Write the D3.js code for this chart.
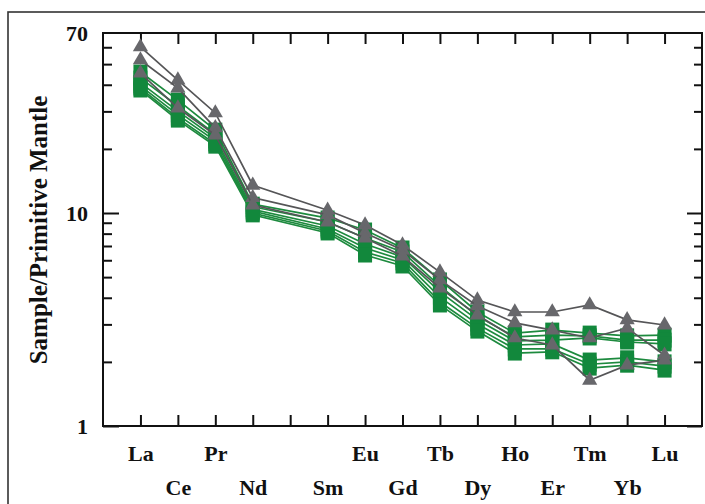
<!DOCTYPE html>
<html>
<head>
<meta charset="utf-8">
<script src="https://cdn.jsdelivr.net/npm/d3@7"></script>
<style>
  html, body { margin: 0; padding: 0; background: #fff; }
  svg { display: block; }
  text { font-family: "Liberation Serif", "Times New Roman", serif; font-weight: bold; fill: #111; }
</style>
</head>
<body>
<svg id="chart" width="705" height="504"></svg>
<script>
// REE order along the x axis (Pm has no analysis, tick only)
const elements = ["La","Ce","Pr","Nd","Pm","Sm","Eu","Gd","Tb","Dy","Ho","Er","Tm","Yb","Lu"];
const elementLabels = ["La","Ce","Pr","Nd","","Sm","Eu","Gd","Tb","Dy","Ho","Er","Tm","Yb","Lu"];

// Primitive-mantle normalised REE, triangle samples
const triSample1 = [60.2, 42.1, 29.5, 13.5, null, 10.3, 8.78, 7.07, 5.28, 3.90, 3.43, 3.43, 3.70, 3.15, 2.98];
const triSample2 = [52.3, 38.6, 25.1, 11.8, null, 9.80, 8.06, 6.70, 4.85, 3.66, 3.05, 2.82, 2.59, 2.88, 2.15];
const triSample3 = [45.4, 31.1, 23.2, 10.9, null, 9.07, 7.63, 6.28, 4.44, 3.32, 2.59, 2.40, 1.64, 1.93, 2.04];

// Primitive-mantle normalised REE, square samples
const sqSample1 = [45.9, 33.9, 24.5, 11.0, null, 9.47, 8.32, 6.85, 4.85, 3.43, 2.73, 2.82, 2.73, 2.65, 2.67];
const sqSample2 = [43.0, 31.8, 23.5, 10.7, null, 9.07, 7.63, 6.56, 4.54, 3.28, 2.62, 2.67, 2.65, 2.53, 2.53];
const sqSample3 = [40.8, 30.1, 22.5, 10.4, null, 8.69, 7.15, 6.22, 4.26, 3.15, 2.51, 2.53, 2.59, 2.48, 2.43];
const sqSample4 = [39.5, 28.9, 21.8, 10.2, null, 8.41, 6.85, 6.02, 4.03, 3.01, 2.40, 2.43, 2.04, 2.09, 2.00];
const sqSample5 = [38.6, 27.9, 21.1, 10.0, null, 8.23, 6.56, 5.83, 3.82, 2.88, 2.30, 2.30, 1.95, 2.00, 1.91];
const sqSample6 = [37.8, 27.3, 20.6, 9.80, null, 8.06, 6.35, 5.64, 3.70, 2.79, 2.20, 2.23, 1.87, 1.93, 1.83];

const triSeries = [triSample1, triSample2, triSample3];
const sqSeries = [sqSample1, sqSample2, sqSample3, sqSample4, sqSample5, sqSample6];

// y-axis ticks
const yMajorTicks = [1, 10];
const yMinorTicks = [2, 3, 4, 5, 6, 7, 8, 9, 20, 30, 40, 50, 60];
const yTickLabels = [1, 10, 70];

const svg = d3.select("#chart");

const plot = { left: 103, right: 702, top: 33, bottom: 426 };

const x = d3.scaleLinear().domain([-1, elements.length]).range([plot.left, plot.right]);
const y = d3.scaleLog().domain([1, 70]).range([plot.bottom, plot.top]);

// outer figure frame
svg.append("rect")
  .attr("x", 8).attr("y", 12).attr("width", 720).attr("height", 520)
  .attr("fill", "none").attr("stroke", "#333").attr("stroke-width", 1.6);

const axisStyle = g => {
  g.select(".domain").remove();
  g.selectAll(".tick line").attr("stroke", "#111").attr("stroke-width", 2);
};

const idx = d3.range(elements.length);

// bottom axis with staggered element labels
const xBottom = svg.append("g")
  .attr("transform", `translate(0,${plot.bottom})`)
  .call(d3.axisBottom(x).tickValues(idx).tickSize(-11).tickFormat(i => elementLabels[i]))
  .call(axisStyle);
xBottom.selectAll(".tick text")
  .attr("dy", null)
  .attr("y", i => (i % 2 === 0 ? 35 : 69))
  .attr("font-size", 22)
  .attr("font-family", "Liberation Serif, serif")
  .attr("font-weight", "bold")
  .attr("fill", "#111");

// top axis, ticks only
svg.append("g")
  .attr("transform", `translate(0,${plot.top})`)
  .call(d3.axisTop(x).tickValues(idx).tickSize(-11).tickFormat(""))
  .call(axisStyle);

// left axis: minor and major ticks, labels on 1, 10, 70
svg.append("g")
  .attr("transform", `translate(${plot.left},0)`)
  .call(d3.axisLeft(y).tickValues(yMinorTicks).tickSize(-9).tickFormat(""))
  .call(axisStyle);
svg.append("g")
  .attr("transform", `translate(${plot.left},0)`)
  .call(d3.axisLeft(y).tickValues(yMajorTicks).tickSize(-16).tickFormat(""))
  .call(axisStyle);
const yLab = svg.append("g")
  .attr("transform", `translate(${plot.left},0)`)
  .call(d3.axisLeft(y).tickValues(yTickLabels).tickSize(0).tickPadding(15).tickFormat(d3.format("d")))
  .call(axisStyle);
yLab.selectAll(".tick text")
  .attr("font-size", 22)
  .attr("font-family", "Liberation Serif, serif")
  .attr("font-weight", "bold")
  .attr("fill", "#111");

// right axis, ticks only
svg.append("g")
  .attr("transform", `translate(${plot.right},0)`)
  .call(d3.axisRight(y).tickValues(yMinorTicks).tickSize(-8).tickFormat(""))
  .call(axisStyle);
svg.append("g")
  .attr("transform", `translate(${plot.right},0)`)
  .call(d3.axisRight(y).tickValues(yMajorTicks).tickSize(-15).tickFormat(""))
  .call(axisStyle);

// plot frame
svg.append("rect")
  .attr("x", plot.left).attr("y", plot.top)
  .attr("width", plot.right - plot.left).attr("height", plot.bottom - plot.top)
  .attr("fill", "none").attr("stroke", "#111").attr("stroke-width", 2);

// y-axis title
svg.append("text")
  .attr("transform", `translate(47,230) rotate(-90)`)
  .attr("text-anchor", "middle")
  .attr("font-size", 25)
  .text("Sample/Primitive Mantle");

const toPoints = s => s.map((v, i) => ({ i, v })).filter(d => d.v != null);
const line = d3.line().x(d => x(d.i)).y(d => y(d.v));

const GREEN = "#12883c";
const GREEN_LINE = "#1d8a3e";
const GREY = "#67676b";
const GREY_LINE = "#555557";

// square samples
sqSeries.forEach(s => {
  const pts = toPoints(s);
  const g = svg.append("g");
  g.append("path").attr("d", line(pts))
    .attr("fill", "none").attr("stroke", GREEN_LINE).attr("stroke-width", 1.7);
  g.selectAll("rect").data(pts).join("rect")
    .attr("x", d => x(d.i) - 7).attr("y", d => y(d.v) - 7.5)
    .attr("width", 14).attr("height", 15)
    .attr("fill", GREEN);
});

// triangle samples
const tri = d3.symbol().type(d3.symbolTriangle).size(100);
triSeries.forEach(s => {
  const pts = toPoints(s);
  const g = svg.append("g");
  g.append("path").attr("d", line(pts))
    .attr("fill", "none").attr("stroke", GREY_LINE).attr("stroke-width", 1.7);
  g.selectAll("path.m").data(pts).join("path").attr("class", "m")
    .attr("transform", d => `translate(${x(d.i)},${y(d.v)})`)
    .attr("d", tri)
    .attr("fill", GREY);
});
</script>
</body>
</html>
